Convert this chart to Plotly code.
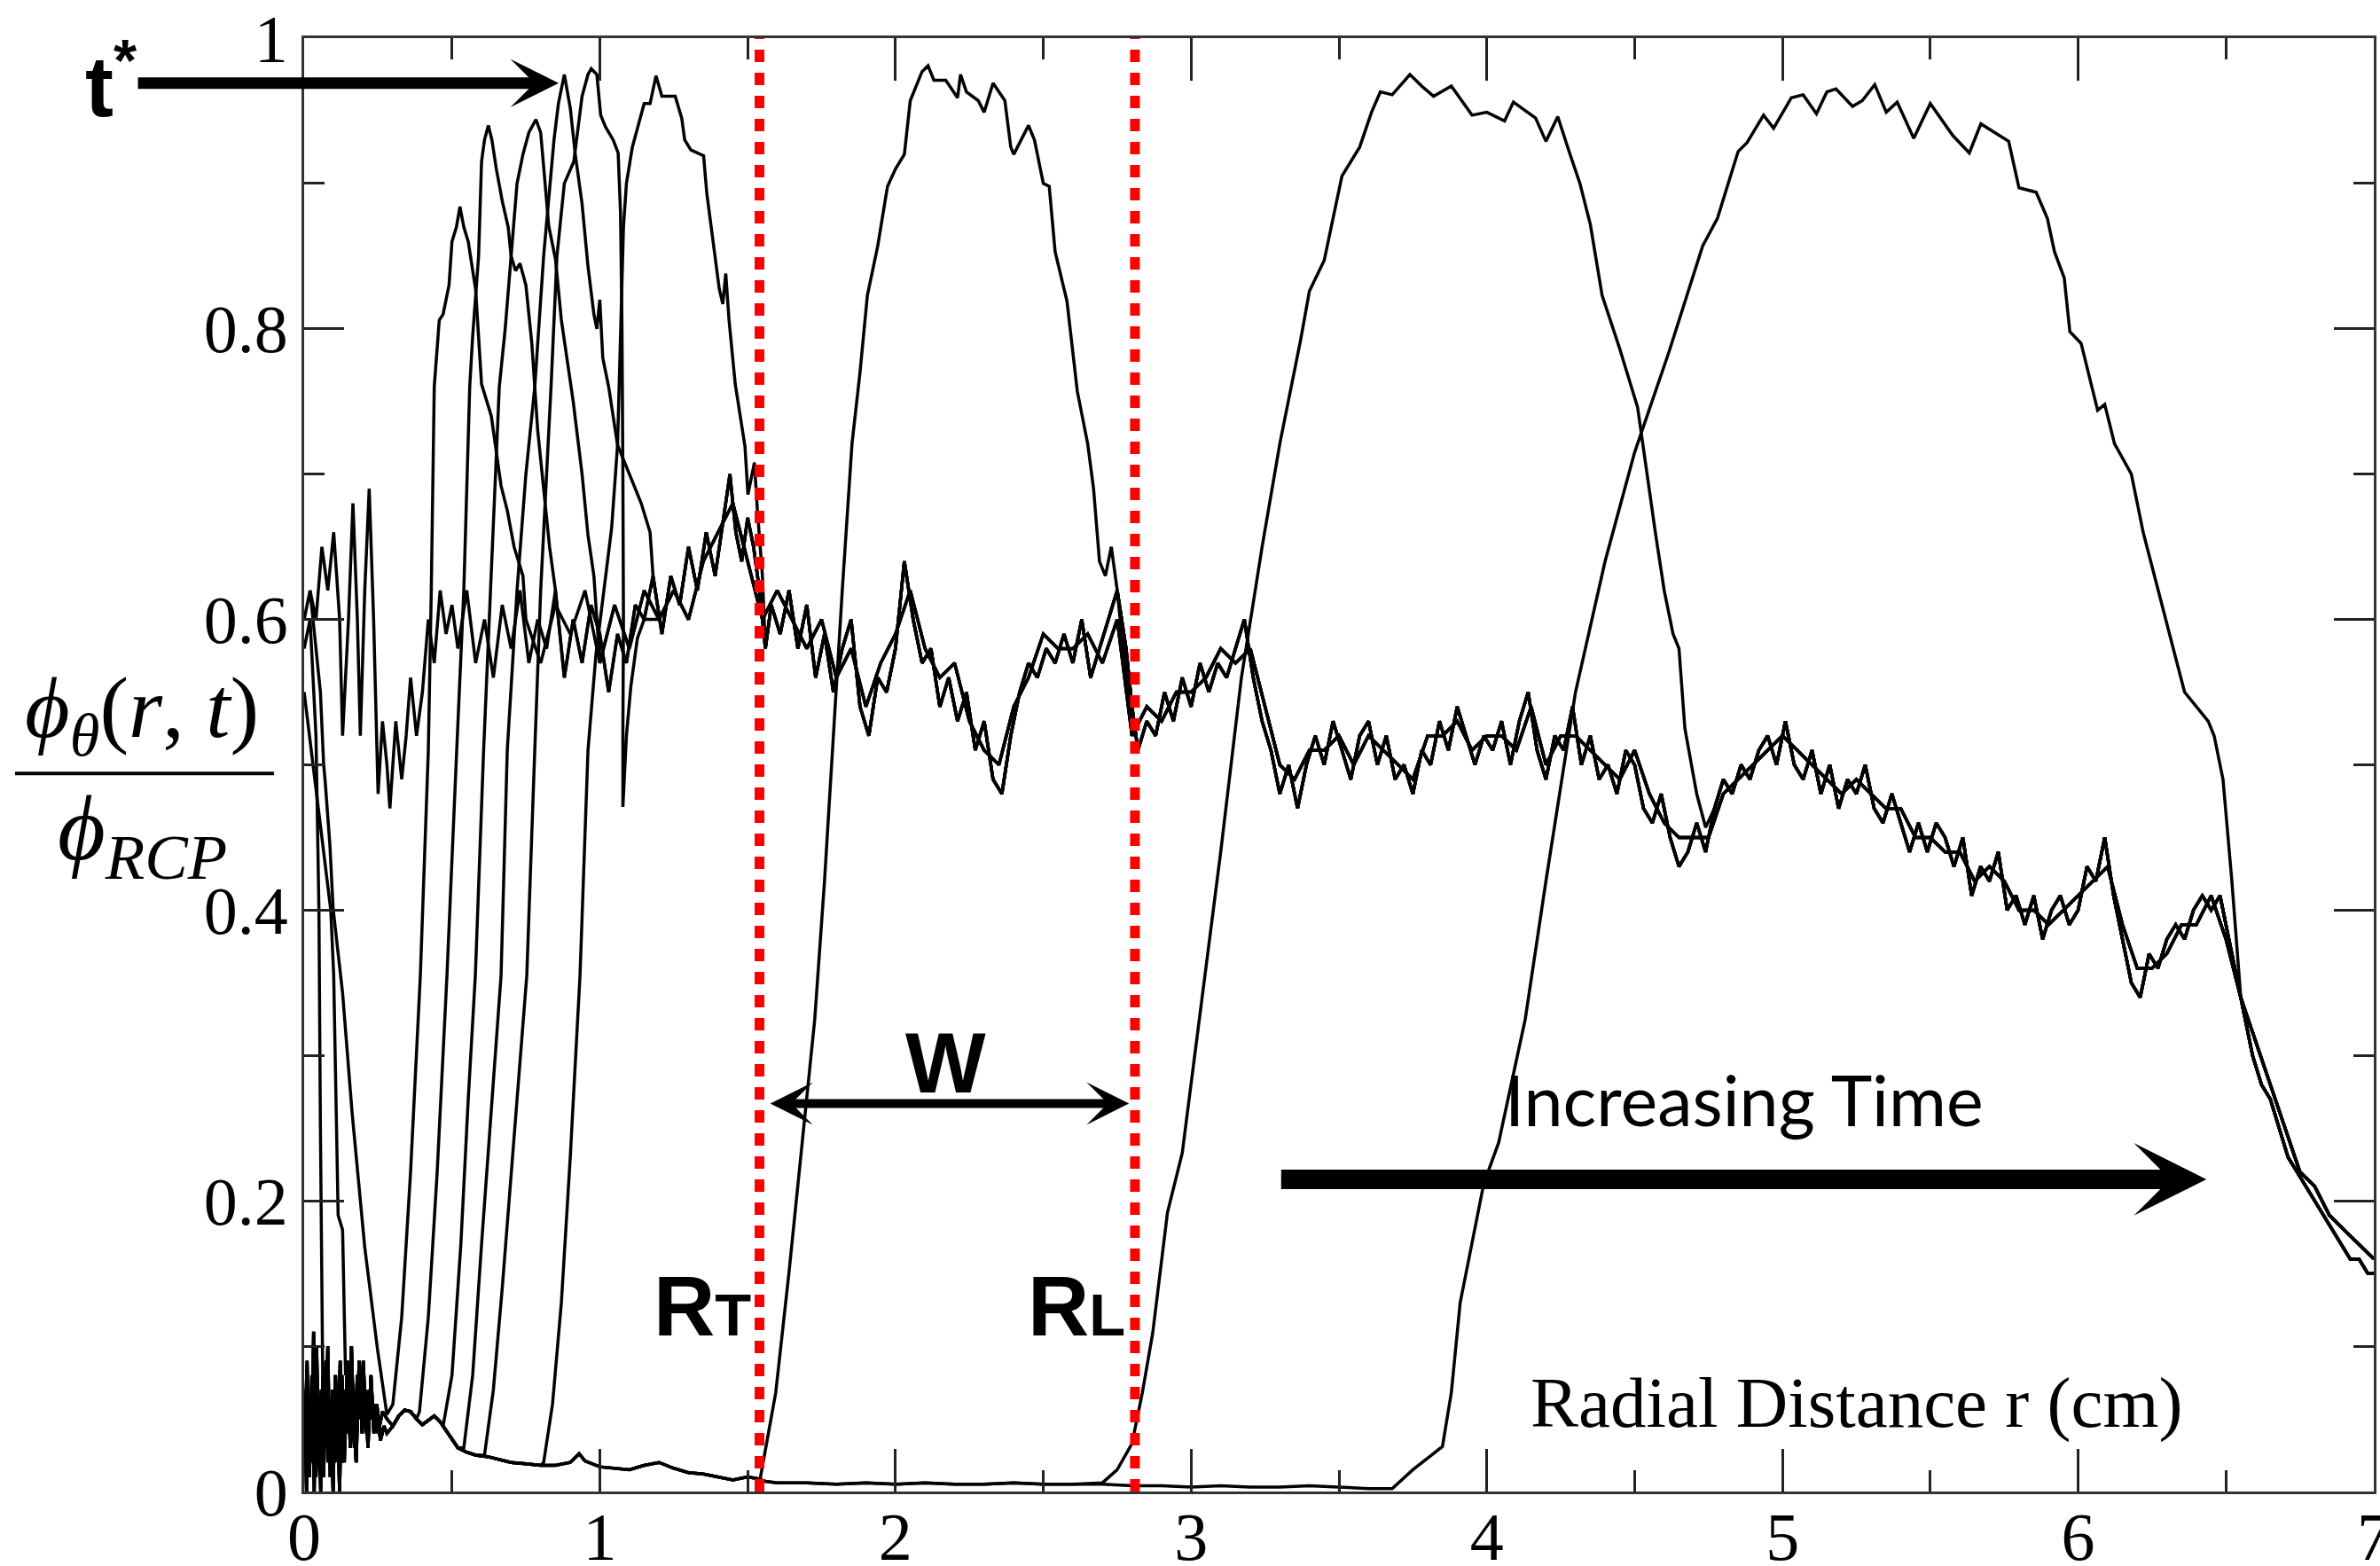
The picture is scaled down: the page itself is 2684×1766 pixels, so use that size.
import plotly.graph_objects as go

# ---------------- data ----------------
# undisturbed packing profile, strand A  (r [cm], phi/phi_RCP)
bg_a = [(0.02,0.62),(0.04,0.60),(0.06,0.65),(0.08,0.62),(0.10,0.66),(0.12,0.60),(0.13,0.52),(0.15,0.60),
        (0.165,0.68),(0.18,0.60),(0.19,0.52),(0.205,0.62),(0.22,0.69),(0.235,0.60),(0.25,0.48),(0.265,0.53),
        (0.28,0.50),(0.29,0.47),(0.31,0.53),(0.33,0.49),(0.345,0.52),(0.36,0.56),(0.38,0.52),(0.40,0.55),
        (0.42,0.60),(0.44,0.57),(0.46,0.62),(0.48,0.59),(0.50,0.61),(0.52,0.58),(0.55,0.62),(0.58,0.57),
        (0.61,0.60),(0.64,0.56),(0.67,0.61),(0.70,0.58),(0.73,0.62),(0.76,0.57),(0.79,0.60),(0.82,0.58),
        (0.85,0.62),(0.88,0.56),(0.91,0.60),(0.94,0.57),(0.97,0.61),(1.00,0.59),(1.03,0.55),(1.06,0.59),
        (1.09,0.57),(1.12,0.61),(1.15,0.60),(1.18,0.63),(1.21,0.59),(1.24,0.63),(1.27,0.61),(1.30,0.65),
        (1.33,0.62),(1.36,0.66),(1.39,0.63),(1.42,0.67),(1.44,0.70),(1.46,0.66),(1.48,0.64),(1.50,0.67),
        (1.52,0.65),(1.54,0.62),(1.56,0.58),(1.58,0.61),(1.61,0.59),(1.64,0.62),(1.67,0.58),(1.70,0.61),
        (1.73,0.56),(1.76,0.59),(1.79,0.55),(1.82,0.58),(1.85,0.60),(1.88,0.54),(1.91,0.52),(1.94,0.56),
        (1.97,0.55),(2.00,0.58),(2.03,0.64),(2.06,0.60),(2.09,0.57),(2.12,0.58),(2.15,0.54),(2.18,0.56),
        (2.21,0.53),(2.24,0.55),(2.27,0.51),(2.30,0.53),(2.33,0.49),(2.36,0.48),(2.39,0.52),(2.42,0.55),
        (2.45,0.57),(2.48,0.56),(2.51,0.58),(2.54,0.57),(2.57,0.59),(2.60,0.57),(2.63,0.60),(2.66,0.56),
        (2.69,0.58),(2.72,0.60),(2.75,0.62),(2.78,0.58),(2.80,0.54),(2.82,0.51),(2.85,0.53),(2.88,0.52),
        (2.91,0.55),(2.94,0.53),(2.97,0.56),(3.00,0.54),(3.03,0.57),(3.06,0.55),(3.09,0.57),(3.12,0.56),
        (3.15,0.58),(3.18,0.60),(3.21,0.56),(3.24,0.53),(3.27,0.51),(3.30,0.48),(3.33,0.50),(3.36,0.47),
        (3.39,0.50),(3.42,0.52),(3.45,0.50),(3.48,0.53),(3.51,0.51),(3.54,0.49),(3.57,0.52),(3.60,0.53),
        (3.63,0.50),(3.66,0.52),(3.69,0.49),(3.72,0.50),(3.75,0.48),(3.78,0.51),(3.81,0.50),(3.84,0.53),
        (3.87,0.51),(3.90,0.54),(3.93,0.52),(3.96,0.50),(3.99,0.52),(4.02,0.51),(4.05,0.53),(4.08,0.50),
        (4.11,0.53),(4.14,0.55),(4.17,0.51),(4.20,0.49),(4.23,0.52),(4.26,0.51),(4.29,0.54),(4.32,0.50),
        (4.35,0.52),(4.38,0.49),(4.41,0.50),(4.44,0.48),(4.47,0.51),(4.50,0.50),(4.53,0.47),(4.56,0.46),
        (4.59,0.48),(4.62,0.45),(4.65,0.43),(4.68,0.44),(4.71,0.46),(4.74,0.44),(4.77,0.47),(4.80,0.49),
        (4.83,0.48),(4.86,0.50),(4.89,0.49),(4.92,0.51),(4.95,0.52),(4.98,0.50),(5.01,0.53),(5.04,0.50),
        (5.07,0.49),(5.10,0.51),(5.13,0.48),(5.16,0.50),(5.19,0.47),(5.22,0.49),(5.25,0.48),(5.28,0.50),
        (5.31,0.47),(5.34,0.46),(5.37,0.48),(5.40,0.46),(5.43,0.44),(5.46,0.46),(5.49,0.44),(5.52,0.46),
        (5.55,0.45),(5.58,0.43),(5.61,0.45),(5.64,0.41),(5.67,0.43),(5.70,0.42),(5.73,0.44),(5.76,0.40),
        (5.79,0.41),(5.82,0.39),(5.85,0.41),(5.88,0.38),(5.91,0.40),(5.94,0.41),(5.97,0.39),(6.00,0.40),
        (6.03,0.43),(6.06,0.42),(6.09,0.45),(6.12,0.41),(6.15,0.38),(6.18,0.35),(6.21,0.34),(6.24,0.37),
        (6.27,0.36),(6.30,0.38),(6.33,0.39),(6.36,0.38),(6.39,0.40),(6.42,0.41),(6.45,0.40),(6.48,0.41),
        (6.50,0.39),(6.53,0.36),(6.56,0.33),(6.59,0.30),(6.62,0.28),(6.65,0.27),(6.68,0.25),(6.71,0.23),
        (6.74,0.22),(6.77,0.21),(6.80,0.20),(6.83,0.19),(6.86,0.18),(6.89,0.17),(6.92,0.16),(6.95,0.16),
        (6.98,0.15),(7.00,0.15)]

# undisturbed packing profile, strand B
bg_b = [(0.45,0.60),(0.50,0.63),(0.55,0.59),(0.60,0.61),(0.65,0.58),(0.70,0.62),(0.75,0.60),(0.80,0.57),
        (0.85,0.61),(0.90,0.59),(0.95,0.62),(1.00,0.57),(1.05,0.61),(1.10,0.58),(1.15,0.62),(1.20,0.60),
        (1.25,0.62),(1.30,0.60),(1.35,0.64),(1.40,0.66),(1.45,0.68),(1.50,0.64),(1.55,0.60),(1.60,0.62),
        (1.65,0.60),(1.70,0.58),(1.75,0.60),(1.80,0.56),(1.85,0.58),(1.90,0.54),(1.95,0.57),(2.00,0.59),
        (2.05,0.62),(2.10,0.58),(2.15,0.56),(2.20,0.57),(2.25,0.53),(2.30,0.51),(2.35,0.50),(2.40,0.54),
        (2.45,0.56),(2.50,0.59),(2.55,0.58),(2.60,0.58),(2.65,0.59),(2.70,0.57),(2.75,0.60),(2.80,0.52),
        (2.85,0.54),(2.90,0.53),(2.95,0.55),(3.00,0.55),(3.05,0.56),(3.10,0.58),(3.15,0.57),(3.20,0.58),
        (3.25,0.54),(3.30,0.50),(3.35,0.49),(3.40,0.51),(3.45,0.51),(3.50,0.52),(3.55,0.50),(3.60,0.52),
        (3.65,0.51),(3.70,0.50),(3.75,0.49),(3.80,0.52),(3.85,0.52),(3.90,0.53),(3.95,0.51),(4.00,0.52),
        (4.05,0.52),(4.10,0.51),(4.15,0.54),(4.20,0.50),(4.25,0.52),(4.30,0.52),(4.35,0.51),(4.40,0.50),
        (4.45,0.49),(4.50,0.51),(4.55,0.48),(4.60,0.46),(4.65,0.45),(4.70,0.45),(4.75,0.45),(4.80,0.48),
        (4.85,0.49),(4.90,0.50),(4.95,0.51),(5.00,0.52),(5.05,0.51),(5.10,0.50),(5.15,0.49),(5.20,0.48),
        (5.25,0.49),(5.30,0.48),(5.35,0.47),(5.40,0.47),(5.45,0.45),(5.50,0.45),(5.55,0.44),(5.60,0.44),
        (5.65,0.42),(5.70,0.43),(5.75,0.42),(5.80,0.40),(5.85,0.40),(5.90,0.39),(5.95,0.40),(6.00,0.41),
        (6.05,0.42),(6.10,0.43),(6.15,0.39),(6.20,0.36),(6.25,0.36),(6.30,0.37),(6.35,0.39),(6.40,0.39),
        (6.45,0.41),(6.50,0.38),(6.55,0.34),(6.60,0.31),(6.65,0.28),(6.70,0.25),(6.75,0.22),(6.80,0.21),
        (6.85,0.19),(6.90,0.18),(6.95,0.17),(7.00,0.16)]

# noisy core near r = 0 (two strands)
core_a = [(0.000,0.02),(0.010,0.09),(0.018,0.01),(0.026,0.08),(0.034,0.00),(0.042,0.10),(0.050,0.03),
          (0.058,0.07),(0.066,0.01),(0.074,0.09),(0.082,0.02),(0.090,0.06),(0.098,0.00),(0.106,0.08),
          (0.114,0.03),(0.122,0.09),(0.130,0.02),(0.140,0.07),(0.150,0.04),(0.160,0.10),(0.170,0.03),
          (0.180,0.08),(0.190,0.05),(0.200,0.09),(0.210,0.04),(0.220,0.07),(0.230,0.05),(0.240,0.06),
          (0.250,0.04),(0.265,0.055),(0.280,0.05)]
core_b = [(0.000,0.07),(0.008,0.00),(0.016,0.06),(0.024,0.02),(0.032,0.11),(0.040,0.01),(0.048,0.05),
          (0.056,0.00),(0.064,0.08),(0.072,0.03),(0.080,0.10),(0.088,0.01),(0.096,0.07),(0.104,0.02),
          (0.112,0.05),(0.120,0.00),(0.128,0.08),(0.136,0.02),(0.146,0.09),(0.156,0.03),(0.166,0.06),
          (0.176,0.02),(0.186,0.09),(0.196,0.04),(0.206,0.07),(0.216,0.03),(0.226,0.08),(0.236,0.04),
          (0.246,0.06),(0.258,0.035),(0.270,0.045),(0.280,0.04)]

# emptied region floor
floor = [(0.30,0.045),(0.32,0.052),(0.34,0.056),(0.36,0.055),(0.38,0.050),(0.40,0.046),(0.42,0.049),
         (0.44,0.052),(0.46,0.048),(0.48,0.042),(0.50,0.036),(0.52,0.030),(0.55,0.027),(0.58,0.025),
         (0.62,0.024),(0.66,0.022),(0.70,0.020),(0.75,0.019),(0.80,0.018),(0.85,0.018),(0.90,0.020),
         (0.93,0.026),(0.95,0.021),(1.00,0.017),(1.05,0.016),(1.10,0.015),(1.15,0.018),(1.20,0.020),
         (1.25,0.016),(1.30,0.013),(1.35,0.012),(1.40,0.010),(1.45,0.008),(1.50,0.010),(1.53,0.009),
         (1.56,0.007),(1.60,0.006),(1.70,0.006),(1.80,0.005),(1.90,0.006),(2.00,0.005),(2.10,0.006),
         (2.20,0.005),(2.30,0.005),(2.40,0.006),(2.50,0.005),(2.60,0.005),(2.70,0.005),(2.80,0.004),
         (2.90,0.004),(3.00,0.003),(3.10,0.004),(3.20,0.003),(3.30,0.003),(3.40,0.004),(3.50,0.003),
         (3.60,0.002),(3.70,0.002)]

# inner starts of the earliest profiles
c1_start = [(0.0,0.60),(0.02,0.62),(0.04,0.58),(0.055,0.55),(0.066,0.50),(0.071,0.489),(0.087,0.445),
            (0.098,0.401),(0.13,0.343),(0.162,0.261),(0.205,0.168),(0.248,0.098),(0.28,0.053)]
c2_start = [(0.0,0.58),(0.02,0.60),(0.04,0.52),(0.05,0.40),(0.055,0.25),(0.06,0.11)]
c3_start = [(0.0,0.55),(0.03,0.50),(0.06,0.45),(0.09,0.40),(0.10,0.355),(0.115,0.19),(0.13,0.18),(0.14,0.08)]

# compaction fronts, one per time
c1_front = [(0.30,0.06),(0.33,0.12),(0.36,0.22),(0.393,0.355),(0.41,0.45),(0.42,0.51),(0.43,0.62),
            (0.435,0.68),(0.44,0.76),(0.457,0.806),(0.47,0.81),(0.49,0.83),(0.50,0.86),(0.515,0.87),
            (0.527,0.884),(0.54,0.87),(0.555,0.86),(0.58,0.827),(0.60,0.762),(0.633,0.74),(0.666,0.692),
            (0.687,0.675),(0.71,0.65),(0.74,0.63)]
c2_front = [(0.39,0.055),(0.42,0.12),(0.45,0.22),(0.483,0.355),(0.50,0.43),(0.516,0.51),(0.54,0.62),
            (0.56,0.76),(0.57,0.795),(0.59,0.85),(0.60,0.915),(0.61,0.93),(0.623,0.94),(0.635,0.93),
            (0.65,0.91),(0.67,0.888),(0.69,0.87),(0.70,0.85),(0.715,0.84),(0.73,0.845),(0.75,0.83),
            (0.77,0.79),(0.79,0.73),(0.81,0.69),(0.83,0.65)]
c3_front = [(0.47,0.045),(0.50,0.08),(0.53,0.17),(0.555,0.27),(0.579,0.355),(0.607,0.51),(0.63,0.62),
            (0.66,0.76),(0.68,0.80),(0.70,0.85),(0.72,0.90),(0.74,0.92),(0.76,0.935),(0.784,0.944),
            (0.80,0.935),(0.815,0.90),(0.827,0.871),(0.85,0.848),(0.87,0.806),(0.91,0.75),(0.94,0.70),
            (0.96,0.658),(0.98,0.63)]
c4_front = [(0.54,0.03),(0.57,0.08),(0.60,0.17),(0.635,0.27),(0.666,0.355),(0.687,0.51),(0.72,0.62),
            (0.75,0.70),(0.78,0.76),(0.81,0.85),(0.845,0.93),(0.86,0.955),(0.88,0.975),(0.90,0.952),
            (0.917,0.92),(0.94,0.886),(0.96,0.843),(0.98,0.81),(0.99,0.80),(1.00,0.82),(1.01,0.78),
            (1.03,0.76),(1.06,0.72),(1.10,0.70),(1.14,0.68),(1.17,0.66)]
c5_front = [(0.61,0.025),(0.64,0.07),(0.67,0.14),(0.70,0.22),(0.73,0.30),(0.753,0.355),(0.78,0.51),
            (0.80,0.62),(0.835,0.76),(0.855,0.85),(0.88,0.90),(0.912,0.915),(0.94,0.96),(0.96,0.975),
            (0.971,0.979),(0.99,0.975),(1.003,0.947),(1.019,0.939),(1.045,0.93),(1.062,0.921),
            (1.07,0.88),(1.075,0.80),(1.078,0.70),(1.08,0.60),(1.078,0.52),(1.078,0.471),(1.09,0.52),
            (1.105,0.554),(1.127,0.587),(1.15,0.60)]
c6_front = [(0.81,0.02),(0.84,0.06),(0.87,0.13),(0.90,0.23),(0.933,0.355),(0.96,0.51),(0.987,0.576),
            (1.02,0.63),(1.04,0.663),(1.06,0.72),(1.07,0.80),(1.08,0.87),(1.09,0.90),(1.11,0.925),
            (1.13,0.94),(1.15,0.955),(1.17,0.955),(1.19,0.974),(1.21,0.96),(1.255,0.96),(1.277,0.945),
            (1.287,0.93),(1.308,0.923),(1.351,0.919),(1.362,0.893),(1.383,0.86),(1.404,0.8275),
            (1.416,0.817),(1.426,0.838),(1.437,0.806),(1.458,0.762),(1.491,0.719),(1.501,0.686),
            (1.523,0.708),(1.533,0.675),(1.55,0.63)]
c7_front = [(1.54,0.006),(1.57,0.04),(1.595,0.068),(1.64,0.151),(1.68,0.233),(1.727,0.325),(1.76,0.42),
            (1.79,0.52),(1.82,0.62),(1.853,0.721),(1.88,0.77),(1.905,0.823),(1.94,0.857),(1.973,0.898),
            (2.00,0.91),(2.03,0.92),(2.05,0.957),(2.09,0.977),(2.11,0.981),(2.13,0.971),(2.17,0.971),
            (2.21,0.959),(2.22,0.975),(2.24,0.963),(2.28,0.957),(2.30,0.949),(2.33,0.969),(2.37,0.957),
            (2.39,0.925),(2.40,0.92),(2.45,0.94),(2.47,0.93),(2.50,0.90),(2.52,0.898),(2.54,0.853),
            (2.58,0.819),(2.60,0.782),(2.615,0.757),(2.65,0.721),(2.67,0.69),(2.69,0.64),(2.71,0.63),
            (2.73,0.65),(2.75,0.62)]
c8_front = [(2.70,0.006),(2.75,0.015),(2.80,0.033),(2.835,0.068),(2.87,0.109),(2.92,0.192),(2.97,0.233),
            (3.03,0.33),(3.10,0.44),(3.17,0.56),(3.24,0.65),(3.30,0.721),(3.37,0.792),(3.40,0.826),
            (3.45,0.847),(3.51,0.905),(3.57,0.925),(3.61,0.949),(3.64,0.963),(3.68,0.961),(3.74,0.975),
            (3.78,0.967),(3.82,0.96),(3.88,0.967),(3.95,0.947),(4.00,0.949),(4.06,0.943),(4.09,0.956),
            (4.165,0.945),(4.20,0.929),(4.24,0.946),(4.28,0.921),(4.315,0.90),(4.35,0.872),(4.39,0.823),
            (4.45,0.786),(4.51,0.746),(4.57,0.66),(4.60,0.62),(4.63,0.59),(4.65,0.58),(4.67,0.525),
            (4.71,0.48),(4.74,0.457)]
c9_front = [(3.68,0.002),(3.75,0.015),(3.80,0.023),(3.85,0.031),(3.88,0.068),(3.91,0.13),(3.95,0.171),
            (3.99,0.212),(4.04,0.24),(4.09,0.288),(4.13,0.325),(4.20,0.42),(4.30,0.55),(4.40,0.64),
            (4.50,0.715),(4.616,0.784),(4.73,0.857),(4.78,0.876),(4.824,0.904),(4.85,0.922),(4.88,0.928),
            (4.936,0.947),(4.97,0.938),(5.03,0.959),(5.07,0.961),(5.115,0.948),(5.15,0.963),(5.181,0.965),
            (5.237,0.953),(5.27,0.957),(5.312,0.968),(5.351,0.949),(5.388,0.956),(5.444,0.931),(5.50,0.955),
            (5.576,0.933),(5.632,0.921),(5.671,0.941),(5.765,0.929),(5.80,0.897),(5.858,0.894),
            (5.896,0.876),(5.92,0.853),(5.953,0.835),(5.972,0.798),(6.01,0.790),(6.066,0.744),(6.09,0.748),
            (6.123,0.721),(6.18,0.70),(6.22,0.66),(6.27,0.62),(6.32,0.58),(6.36,0.55),(6.40,0.54),
            (6.44,0.53),(6.46,0.52),(6.49,0.49),(6.52,0.42)]

R_T = 1.54   # trailing edge radius
R_L = 2.81   # leading edge radius

# ---------------- assemble profiles ----------------
def part(pts, lo, hi):
    return [p for p in pts if lo <= p[0] < hi]

profiles = [
    part(bg_a, 0, 8),
    c1_start + c1_front + part(bg_b, 0.745, 8),
    c2_start + part(core_a, 0.066, 0.29) + part(floor, 0.29, 0.39) + c2_front + part(bg_a, 0.835, 8),
    c3_start + part(core_b, 0.146, 0.29) + part(floor, 0.29, 0.47) + c3_front + part(bg_b, 0.985, 8),
    part(core_a, 0, 0.29) + part(floor, 0.29, 0.54) + c4_front + part(bg_a, 1.175, 8),
    part(core_b, 0, 0.29) + part(floor, 0.29, 0.61) + c5_front + part(bg_b, 1.155, 8),
    part(core_a, 0, 0.29) + part(floor, 0.29, 0.81) + c6_front + part(bg_a, 1.555, 8),
    part(core_b, 0, 0.29) + part(floor, 0.29, 1.54) + c7_front + part(bg_b, 2.755, 8),
    part(core_a, 0, 0.29) + part(floor, 0.29, 2.70) + c8_front + part(bg_a, 4.745, 8),
    part(core_b, 0, 0.29) + part(floor, 0.29, 3.68) + c9_front + part(bg_b, 6.525, 8),
]

fig = go.Figure()
for prof in profiles:
    fig.add_trace(go.Scatter(
        x=[p[0] for p in prof], y=[p[1] for p in prof], mode="lines",
        line=dict(color="black", width=3.5), hoverinfo="skip", showlegend=False))

SERIF = "Liberation Serif"
SANS = "Liberation Sans"
tickfont = dict(family=SERIF, size=76, color="black")

axis_common = dict(showline=True, linecolor="#333333", linewidth=3, mirror="ticks",
                   ticks="inside", tickcolor="#222222", tickwidth=2.5, automargin=False,
                   ticklabeloverflow="allow",
                   showgrid=False, zeroline=False, tickfont=tickfont)

fig.update_layout(
    width=2684, height=1766,
    margin=dict(l=343, r=7, t=43, b=84, autoexpand=False),
    paper_bgcolor="white", plot_bgcolor="white",
    xaxis=dict(range=[0, 7], tickmode="array", tickvals=[0, 1, 2, 3, 4, 5, 6, 7], ticklen=48,
               ticklabelstandoff=-17,
               minor=dict(dtick=0.5, ticklen=24, tickwidth=2.5, ticks="inside", tickcolor="#222222"),
               **axis_common),
    yaxis=dict(range=[0, 1], tickmode="array", tickvals=[0, 0.2, 0.4, 0.6, 0.8, 1],
               ticktext=["0", "0.2", "0.4", "0.6", "0.8", "1"], ticklen=45,
               minor=dict(dtick=0.1, ticklen=23, tickwidth=2.5, ticks="inside", tickcolor="#222222"),
               **axis_common),
)

# red dotted boundaries
for rx in (R_T, R_L):
    fig.add_shape(type="line", xref="x", yref="y", x0=rx, x1=rx, y0=0, y1=1,
                  line=dict(color="#ff0000", width=11, dash="14px,12px"), layer="above")

# y-axis label as a fraction
fig.add_shape(type="line", xref="paper", yref="paper", x0=-0.1397, x1=-0.0146, y0=0.494, y1=0.494,
              line=dict(color="black", width=4))
mathfont = dict(family=SERIF, size=98, color="black")
fig.add_annotation(xref="paper", yref="paper", x=-0.0784, y=0.535, showarrow=False,
                   text="<i>ϕ</i><sub><i>θ</i></sub>(<i>r</i>, <i>t</i>)", font=mathfont,
                   xanchor="center", yanchor="middle")
fig.add_annotation(xref="paper", yref="paper", x=-0.0784, y=0.452, showarrow=False,
                   text="<i>ϕ</i><sub><i>RCP</i></sub>", font=dict(family=SERIF, size=104, color="black"),
                   xanchor="center", yanchor="middle")

bold = dict(family=SANS, size=96, color="black")
# t* label and arrow
fig.add_annotation(xref="paper", yref="paper", x=-0.093, y=0.971, showarrow=False,
                   text="<b>t</b><sup><b>*</b></sup>", font=bold, xanchor="center", yanchor="middle")
fig.add_annotation(x=0.861, y=0.969, ax=-476, ay=0, text="", showarrow=True,
                   arrowhead=3, arrowsize=0.7, arrowwidth=13, arrowcolor="black")

# width W between R_T and R_L
fig.add_annotation(x=R_L - 0.02, y=0.267, ax=R_T + 0.032, ay=0.267, axref="x", ayref="y",
                   text="", showarrow=True, arrowside="end+start",
                   arrowhead=3, startarrowhead=3, arrowsize=0.8, startarrowsize=0.8,
                   arrowwidth=10, arrowcolor="black")
fig.add_annotation(x=2.17, y=0.295, text="<b>W</b>", showarrow=False, font=bold,
                   xanchor="center", yanchor="middle")
fig.add_annotation(x=1.347, y=0.128, text="<b>R<span style='font-size:67px'>T</span></b>",
                   showarrow=False, font=bold, xanchor="center", yanchor="middle")
fig.add_annotation(x=2.613, y=0.128, text="<b>R<span style='font-size:67px'>L</span></b>",
                   showarrow=False, font=bold, xanchor="center", yanchor="middle")

# increasing time
fig.add_annotation(x=4.87, y=0.27, text="Increasing Time", showarrow=False,
                   font=dict(family="Lato", size=79, color="black"), xanchor="center", yanchor="middle")
fig.add_annotation(x=6.434, y=0.2148, ax=-1045, ay=0, text="", showarrow=True,
                   arrowhead=3, arrowsize=0.62, arrowwidth=22, arrowcolor="black")

# x-axis label inside the plot
fig.add_annotation(x=5.25, y=0.061, text="Radial Distance r (cm)", showarrow=False,
                   font=dict(family=SERIF, size=81, color="black"), xanchor="center", yanchor="middle")

fig.write_html("out.html")
